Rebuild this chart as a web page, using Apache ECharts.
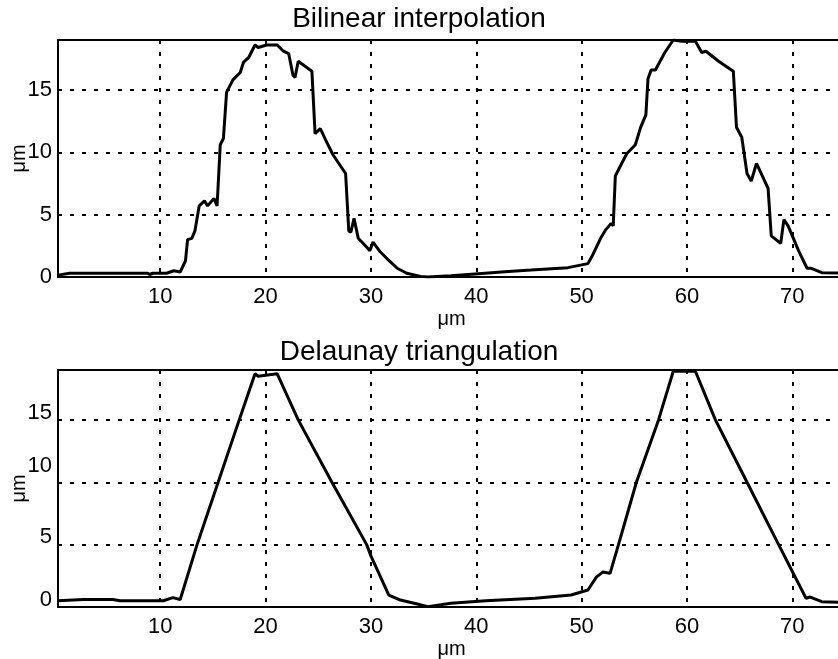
<!DOCTYPE html>
<html>
<head>
<meta charset="utf-8">
<title>Bilinear interpolation / Delaunay triangulation</title>
<script src="https://cdn.jsdelivr.net/npm/echarts@6/dist/echarts.min.js"></script>
<style>
  html, body { margin: 0; padding: 0; background: #fff; }
  #chart { width: 838px; height: 659px; }
</style>
</head>
<body>
<div id="chart"></div>
<script>
// Height profiles (μm) along the scan line (μm)
const bilinearX = [0.3, 1.4, 5.0, 8.8, 9.0, 9.3, 10.6, 11.3, 11.9, 12.4, 12.6, 13.0, 13.3, 13.7, 14.2, 14.5, 15.1, 15.4,
  15.7, 16.0, 16.3, 16.9, 17.6, 17.9, 18.4, 19.0, 19.3, 20.1, 21.1, 21.7, 22.2, 22.6, 22.8, 23.1, 24.4, 24.7, 25.2,
  25.7, 26.4, 27.6, 27.9, 28.1, 28.4, 28.8, 29.7, 29.9, 30.2, 30.9, 31.5, 32.5, 33.4, 34.7, 35.4, 37.6, 40.2, 42.7,
  45.2, 48.7, 50.0, 50.6, 51.1, 51.8, 52.3, 52.8, 53.0, 53.2, 53.8, 54.3, 55.1, 55.6, 56.1, 56.3, 56.6, 57.0, 57.9,
  58.7, 59.5, 60.8, 61.4, 61.8, 63.0, 64.4, 64.7, 65.2, 65.7, 66.1, 66.6, 67.7, 68.0, 68.9, 69.2, 69.6, 70.6, 71.4,
  71.8, 72.8, 75.0];
const bilinearY = [0.15, 0.3, 0.3, 0.3, 0.2, 0.3, 0.3, 0.5, 0.4, 1.3, 3.0, 3.1, 3.7, 5.7, 6.1, 5.7, 6.3, 5.7,
  10.6, 11.1, 14.8, 15.8, 16.4, 17.2, 17.6, 18.6, 18.4, 18.6, 18.6, 18.1, 17.9, 16.2, 16.0, 17.3, 16.5, 11.5, 11.9,
  11.0, 9.8, 8.3, 3.7, 3.6, 4.7, 3.1, 2.3, 2.1, 2.8, 2.0, 1.5, 0.7, 0.3, 0.05, 0.0, 0.1, 0.27, 0.43,
  0.56, 0.75, 0.97, 1.07, 1.85, 3.1, 3.8, 4.3, 4.1, 8.1, 9.1, 9.9, 10.6, 12.0, 13.0, 15.9, 16.6, 16.6, 18.0,
  19.0, 18.9, 18.9, 18.0, 18.1, 17.3, 16.5, 12.0, 11.2, 8.3, 7.7, 9.1, 7.1, 3.3, 2.7, 4.6, 4.1, 2.1, 0.7,
  0.7, 0.35, 0.3];

const delaunayX = [0.3, 2.7, 5.5, 6.2, 10.3, 11.2, 11.9, 13.5, 15.5, 17.5, 19.0, 19.3, 21.1, 23.1, 26.3, 29.6, 30.0,
  31.7, 32.8, 34.4, 35.4, 37.6, 40.9, 45.6, 49.0, 50.6, 51.4, 52.0, 52.7, 53.5, 55.2, 57.3, 58.7, 60.8, 62.7, 65.7,
  68.7, 71.3, 71.7, 72.8, 75.0];
const delaunayY = [0.5, 0.6, 0.6, 0.5, 0.5, 0.75, 0.6, 5.0, 10.0, 15.0, 18.7, 18.5, 18.7, 15.0, 10.0, 5.0, 4.1,
  0.96, 0.56, 0.24, 0.03, 0.3, 0.5, 0.7, 0.96, 1.36, 2.4, 2.8, 2.7, 5.0, 10.0, 15.0, 18.9, 18.9, 15.0, 10.0,
  5.0, 0.7, 0.8, 0.43, 0.35];

const xTicks = [10, 20, 30, 40, 50, 60, 70];
const yTicks = [0, 5, 10, 15];
const titles = ['Bilinear interpolation', 'Delaunay triangulation'];
const unit = 'μm';

const FONT = "'Liberation Sans', Arial, Helvetica, sans-serif";
const TICK_SIZE = 22;
const pairs = (xs, ys) => xs.map((x, i) => [x, ys[i]]);

const dotted = { color: '#000', width: 2, type: [4, 8] };

function xAxis(gridIndex) {
  return {
    type: 'value', gridIndex, min: 0.3, max: 75,
    name: unit, nameLocation: 'middle', nameGap: 32,
    nameTextStyle: { color: '#000', fontSize: 20, fontFamily: FONT },
    axisLine: { show: false },
    axisTick: { show: false, customValues: xTicks },
    axisLabel: { customValues: xTicks, color: '#000', fontSize: TICK_SIZE, fontFamily: FONT, margin: 9 },
    splitLine: { show: true, lineStyle: dotted }
  };
}

// lower panel labels sit a little above their grid lines
const lowerLift = { 0: 14, 5: 16, 10: 32, 15: 14 };

function yAxis(gridIndex, lifted) {
  const rich = {};
  yTicks.forEach(v => {
    rich['t' + v] = {
      color: '#000', fontSize: TICK_SIZE, fontFamily: FONT,
      padding: [0, 0, lifted ? lowerLift[v] : 0, 0]
    };
  });
  return {
    type: 'value', gridIndex, min: 0, max: 19,
    name: unit, nameLocation: 'middle', nameGap: 29, nameMoveOverlap: false,
    nameTextStyle: { color: '#000', fontSize: 20, fontFamily: FONT },
    axisLine: { show: false },
    axisTick: { show: false, customValues: yTicks },
    axisLabel: {
      customValues: yTicks, margin: 6,
      formatter: v => '{t' + v + '|' + v + '}',
      rich
    },
    splitLine: { show: true, lineStyle: dotted }
  };
}

function profile(data, idx) {
  return {
    type: 'line', xAxisIndex: idx, yAxisIndex: idx,
    data, showSymbol: false, clip: true,
    lineStyle: { color: '#000', width: 3 },
    itemStyle: { color: '#000' }
  };
}

const panel = top => ({
  left: 58, top, right: -7, height: 237, outerBoundsMode: 'none', containLabel: false,
  show: true, borderColor: '#000', borderWidth: 2, backgroundColor: 'transparent'
});

const chart = echarts.init(document.getElementById('chart'), null, { renderer: 'canvas' });
chart.setOption({
  animation: false,
  backgroundColor: '#fff',
  title: [
    { text: titles[0], left: 'center', top: 0,
      textStyle: { color: '#000', fontSize: 28, fontWeight: 'normal', fontFamily: FONT } },
    { text: titles[1], left: 'center', top: 333,
      textStyle: { color: '#000', fontSize: 28, fontWeight: 'normal', fontFamily: FONT } }
  ],
  grid: [panel(40), panel(370)],
  xAxis: [xAxis(0), xAxis(1)],
  yAxis: [yAxis(0, false), yAxis(1, true)],
  series: [
    profile(pairs(bilinearX, bilinearY), 0),
    profile(pairs(delaunayX, delaunayY), 1)
  ]
});
</script>
</body>
</html>
